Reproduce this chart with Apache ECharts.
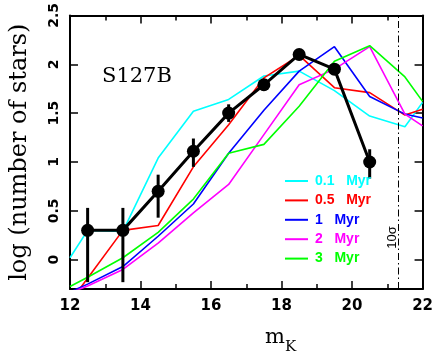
<!DOCTYPE html>
<html><head><meta charset="utf-8">
<script src="https://cdn.jsdelivr.net/npm/echarts@6/dist/echarts.min.js"></script>
<style>html,body{margin:0;padding:0;background:#fff}#c{width:436px;height:354px}</style>
</head><body><div id="c"></div>
<script>
// model magnitude grid
const modelMag = [12, 12.5, 13.5, 14.5, 15.5, 16.5, 17.5, 18.5, 19.5, 20.5, 21.5, 22];
const model01 = [0.02, 0.30, 0.29, 1.04, 1.52, 1.64, 1.88, 1.93, 1.73, 1.47, 1.36, 1.61];
const model05 = [-0.43, -0.19, 0.30, 0.35, 0.95, 1.38, 1.86, 2.09, 1.76, 1.71, 1.48, 1.54];
const model1  = [-0.33, -0.25, -0.07, 0.24, 0.57, 1.09, 1.53, 1.93, 2.18, 1.67, 1.49, 1.45];
const model2  = [-0.34, -0.27, -0.10, 0.17, 0.48, 0.77, 1.28, 1.79, 1.95, 2.18, 1.49, 1.37];
const model3  = [-0.275, -0.18, 0.02, 0.28, 0.62, 1.09, 1.18, 1.57, 2.03, 2.19, 1.87, 1.62];
const modelNames = ['0.1 Myr', '0.5 Myr', '1 Myr', '2 Myr', '3 Myr'];
const modelColors = ['#00ffff', '#ff0000', '#0000ff', '#ff00ff', '#00ff00'];

// observed counts
const obsMag  = [12.5, 13.5, 14.5, 15.5, 16.5, 17.5, 18.5, 19.5, 20.5];
const obsLog  = [0.30, 0.30, 0.70, 1.11, 1.50, 1.79, 2.10, 1.95, 1.00];
const obsLow  = [-0.23, -0.23, 0.43, 0.95, 1.41, 1.73, 2.06, 1.895, 0.83];
const obsHigh = [0.53, 0.53, 0.87, 1.24, 1.59, 1.84, 2.14, 1.99, 1.13];

const limit10sigma = 21.3;
const xTicks = [12, 14, 16, 18, 20, 22];
const yTicks = [0, 0.5, 1, 1.5, 2, 2.5];

const chart = echarts.init(document.getElementById('c'), null, {renderer: 'canvas'});
const modelData = [model01, model05, model1, model2, model3];

const tickStyle = {color: '#000', width: 1.5};
const lineAxis = {onZero: false, lineStyle: {color: '#000', width: 2}};

const series = modelData.map((vals, i) => ({
  name: modelNames[i],
  type: 'line',
  color: modelColors[i],
  data: modelMag.map((m, j) => [m, vals[j]]),
  symbol: 'none',
  lineStyle: {width: 1.6, color: modelColors[i]},
  z: 2,
  silent: true,
  animation: false
}));

series.push({
  type: 'custom',
  name: 'err',
  data: obsMag.map((m, i) => [m, obsLow[i], obsHigh[i]]),
  encode: {x: 0, y: [1, 2]},
  renderItem: (params, api) => {
    const p1 = api.coord([api.value(0), api.value(1)]);
    const p2 = api.coord([api.value(0), api.value(2)]);
    return {type: 'line', shape: {x1: p1[0], y1: p1[1], x2: p2[0], y2: p2[1]},
      style: {stroke: '#000', lineWidth: 3}};
  },
  z: 3, animation: false, silent: true
});

series.push({
  type: 'line',
  name: 'obs',
  data: obsMag.map((m, i) => [m, obsLog[i]]),
  symbol: 'circle',
  symbolSize: 13,
  itemStyle: {color: '#000'},
  lineStyle: {color: '#000', width: 3},
  z: 4, animation: false, silent: true,
  markLine: {
    silent: true, symbol: 'none', animation: false,
    label: {show: false},
    lineStyle: {color: '#000', width: 1, type: [7, 3, 1.5, 3]},
    data: [{xAxis: limit10sigma}]
  }
});

const xBase = {
  type: 'value', min: 12, max: 22, interval: 2,
  axisLine: lineAxis,
  axisTick: {inside: true, length: 8, lineStyle: tickStyle},
  minorTick: {show: true, splitNumber: 2, length: 5, lineStyle: tickStyle},
  splitLine: {show: false}, minorSplitLine: {show: false}
};
const yBase = {
  type: 'value', min: -0.3, max: 2.5,
  axisLine: lineAxis,
  axisTick: {inside: true, length: 8, lineStyle: tickStyle, customValues: yTicks},
  splitLine: {show: false}
};

chart.setOption({
  animation: false,
  grid: {left: 67, right: 12, top: 14, bottom: 65},
  legend: {
    orient: 'vertical', left: 280, top: 169,
    itemWidth: 23, itemHeight: 2, itemGap: 5.4, icon: 'rect',
    selectedMode: false,
    formatter: n => n.replace(' ', '   '),
    textStyle: {fontFamily: 'Liberation Sans', fontWeight: 'bold', fontSize: 14, lineHeight: 14, padding: [0, 0, 0, 2]},
    data: modelNames.map((n, i) => ({name: n, textStyle: {color: modelColors[i]}}))
  },
  xAxis: [
    Object.assign({}, xBase, {position: 'bottom',
      axisLabel: {margin: 10, fontFamily: 'DejaVu Sans', fontWeight: 'bold', fontSize: 15, color: '#000',
        customValues: xTicks}}),
    Object.assign({}, xBase, {position: 'top', axisLabel: {show: false}})
  ],
  yAxis: [
    Object.assign({}, yBase, {position: 'left',
      axisLabel: {customValues: yTicks, rotate: 90, margin: 9, fontFamily: 'DejaVu Sans', fontWeight: 'bold', fontSize: 14, color: '#000'},
      name: 'log (number of stars)', nameLocation: 'middle', nameGap: 38,
      nameTextStyle: {fontFamily: 'DejaVu Serif', fontSize: 24, color: '#000'}}),
    Object.assign({}, yBase, {position: 'right', axisLabel: {show: false}})
  ],
  series: series
});

const lx = chart.convertToPixel({xAxisIndex: 0}, limit10sigma);
chart.setOption({
  graphic: [
    {type: 'text', x: 102, y: 77, silent: true,
      style: {text: 'S127B', fontFamily: 'DejaVu Serif', fontSize: 21, fill: '#000', align: 'left', verticalAlign: 'middle', textAlign: 'left', textVerticalAlign: 'middle'}},
    {type: 'text', x: 265, y: 337.7, silent: true,
      style: {text: 'm', fontFamily: 'DejaVu Serif', fontSize: 21, fill: '#000', align: 'left', verticalAlign: 'middle', textAlign: 'left', textVerticalAlign: 'middle'}},
    {type: 'text', x: 285, y: 347, silent: true,
      style: {text: 'K', fontFamily: 'DejaVu Serif', fontSize: 15, fill: '#000', align: 'left', verticalAlign: 'middle', textAlign: 'left', textVerticalAlign: 'middle'}},
    {type: 'text', x: lx - 5.5, y: 237.5, rotation: Math.PI / 2, silent: true,
      style: {text: '10σ', fontFamily: 'Liberation Sans', fontSize: 13, fill: '#000', align: 'center', verticalAlign: 'middle', textAlign: 'center', textVerticalAlign: 'middle'}}
  ]
});
</script>
</body></html>
